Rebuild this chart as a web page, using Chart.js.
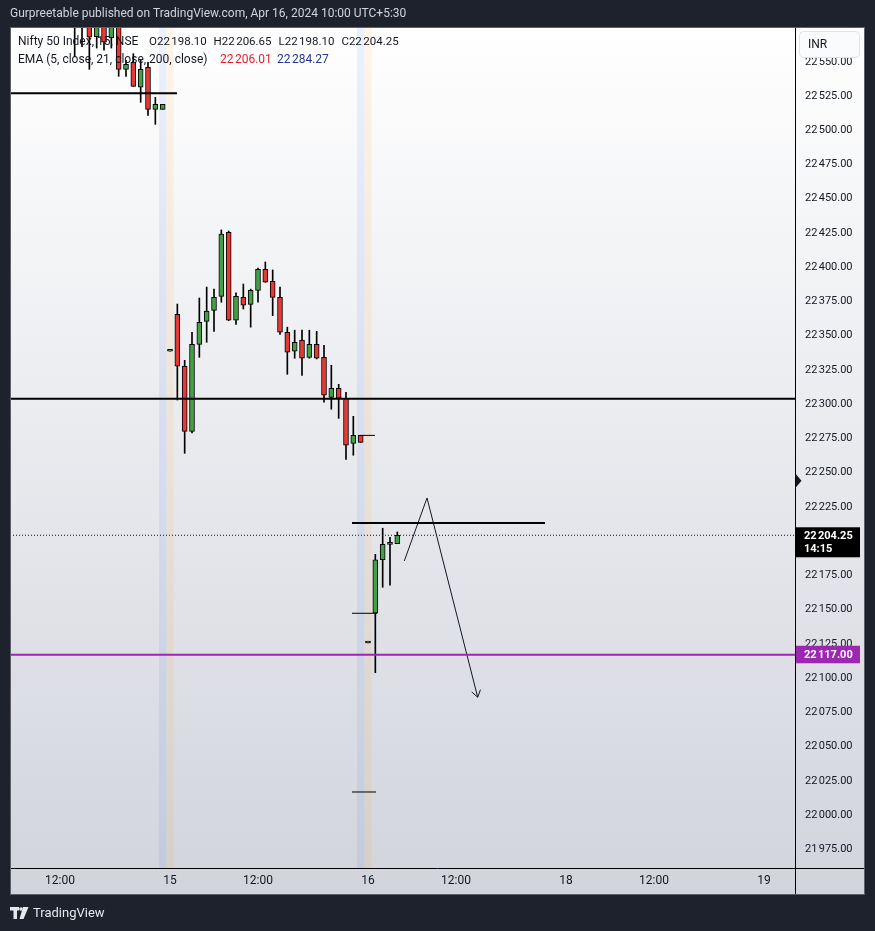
<!DOCTYPE html>
<html>
<head>
<meta charset="utf-8">
<script src="https://cdn.jsdelivr.net/npm/chart.js@4.4.1/dist/chart.umd.min.js"></script>
<style>
  html, body { margin: 0; padding: 0; background: #1e222d; }
  canvas { display: block; }
</style>
</head>
<body>
<canvas id="chart" width="875" height="931"></canvas>
<script>
// 15 min slots, 27 per session day (pre-market, 9:15 .. 15:15, post-market).
// slot 0 = Apr 12 pre-market, 27 = Apr 15, 54 = Apr 16, 81 = Apr 18, 108 = Apr 19
const slots = [14, 15, 16, 17, 18, 19, 20, 21, 22, 23, 24, 25, 26,
  27, 28, 29, 30, 31, 32, 33, 34, 35, 36, 37, 38, 39, 40, 41, 42, 43, 44, 45, 46, 47, 48, 49, 50, 51, 52, 53,
  54, 55, 56, 57, 58];
const opens = [22592, 22580, 22588, 22568.3, 22583, 22567.4, 22580, 22544.5, 22549.6, 22531.4, 22546, 22515.3, 22515.3,
  22338.6, 22365.6, 22327.8, 22280.1, 22343.7, 22360.5, 22368.5, 22378.7, 22425.5, 22361.4, 22378, 22372.9, 22383.1,
  22398.5, 22389.7, 22378, 22352.5, 22338.6, 22346.7, 22334.2, 22343.7, 22334.2, 22305, 22311.6, 22304.3, 22271.4, 22277.2,
  22125.6, 22147.3, 22186.4, 22197.6, 22198.10];
const highs = [22598, 22596, 22592, 22586, 22587, 22583, 22584, 22551, 22555.9, 22551, 22549.6, 22524, 22518.9,
  22338.6, 22373.1, 22332, 22352.5, 22377.5, 22385.5, 22384, 22427.2, 22426.4, 22381.2, 22387.7, 22384, 22399.3,
  22403.8, 22398, 22385.5, 22356.2, 22354, 22354, 22354, 22353.2, 22343, 22328.4, 22314.5, 22308.7, 22291.1, 22277.2,
  22125.6, 22190.3, 22209.4, 22202.8, 22206.65];
const lows = [22553.7, 22561, 22544.5, 22560, 22558.4, 22560, 22539.4, 22539.4, 22532.1, 22520.4, 22510.9, 22504.3, 22515.3,
  22338.6, 22303, 22264.1, 22279, 22334.2, 22345.2, 22353.2, 22374.4, 22361, 22358.3, 22369.5, 22356.2, 22374.4,
  22389, 22364.6, 22351, 22321.8, 22333.5, 22321, 22333.5, 22333, 22301.4, 22296.3, 22289.6, 22259.7, 22262.7, 22272.1,
  22125.6, 22103.9, 22166.3, 22167.8, 22198.10];
const closes = [22584, 22590, 22567.9, 22582, 22564.4, 22579, 22544.5, 22548.1, 22532.1, 22544.5, 22515.3, 22518.9, 22518.9,
  22338.6, 22327.8, 22280.1, 22343.7, 22359.8, 22368, 22378, 22424.2, 22361.4, 22378.7, 22372.2, 22383.1, 22398.5,
  22389, 22378, 22352.5, 22337.9, 22345.2, 22333.5, 22343.7, 22333.5, 22306.5, 22311.6, 22304.3, 22270, 22277.2, 22272.1,
  22125.6, 22186.4, 22197.6, 22198.3, 22204.25];

const preSlots = [27, 54];
const postSlots = [26, 53];

const timeTickSlots = [12, 27, 39, 54, 66, 81, 93, 108];
const timeTickLabels = ['12:00', '15', '12:00', '16', '12:00', '18', '12:00', '19'];

const lastPrice = 22204.25;
const alertPrice = 22117;
const markerPrice = 22244;
const topTick = 22550;

const xMin = 5.18, xMax = 112.23;
const yMin = 21961.3, yMax = 22575.4;

const UP = '#43a047', DOWN = '#e53935';

// user drawings on the chart (slot, price)
const drawings = [
  { p: 22527, a: xMin, b: 27.95, w: 2, color: '#000' },
  { p: 22304, a: xMin, b: xMax, w: 2, color: '#000' },
  { p: 22213.2, a: 51.82, b: 78.14, w: 2, color: '#000' },
  { p: 22117, a: xMin, b: xMax, w: 2, color: '#9c27b0' },
  { p: lastPrice, a: xMin, b: xMax, w: 1, color: '#131722', dash: [1, 2] },
  { p: 22277.2, a: 52.95, b: 54.95, w: 1, color: '#000' },
  { p: 22147.3, a: 51.82, b: 55.23, w: 1, color: '#000' },
  { p: 22016.8, a: 51.82, b: 55.1, w: 1, color: '#000' },
];
const arrowPath = [[58.95, 22185.5], [62.05, 22231.5], [68.96, 22086.0]];

const fmt = v => {
  const [i, d] = v.toFixed(2).split('.');
  return i.replace(/\B(?=(\d{3})+(?!\d))/g, '\u202F') + '.' + d;
};

// draw text pieces one after another
function flow(c, parts, x, y, gap) {
  parts.forEach(([t, col]) => {
    c.fillStyle = col;
    c.fillText(t, x, y);
    x += c.measureText(t).width + gap;
  });
}

const frame = {
  id: 'frame',
  beforeDraw(chart) {
    const c = chart.ctx, xs = chart.scales.x, a = chart.chartArea;
    c.save();
    c.fillStyle = '#1e222d';
    c.fillRect(0, 0, chart.width, chart.height);
    const g = c.createLinearGradient(0, 27, 0, 895);
    g.addColorStop(0, '#ffffff');
    g.addColorStop(1, '#d1d4dc');
    c.fillStyle = g;
    c.fillRect(10, 27, 855, 868);
    const half = (xs.getPixelForValue(1) - xs.getPixelForValue(0)) / 2;
    c.fillStyle = 'rgba(41,98,255,0.09)';
    postSlots.forEach(s => {
      const px = xs.getPixelForValue(s);
      c.fillRect(px - half, a.top, half * 2, a.bottom - a.top);
    });
    c.fillStyle = 'rgba(255,152,0,0.09)';
    preSlots.forEach(s => {
      const px = xs.getPixelForValue(s);
      c.fillRect(px - half, a.top, half * 2, a.bottom - a.top);
    });
    c.restore();
  },
  afterDraw(chart) {
    const c = chart.ctx, xs = chart.scales.x, ys = chart.scales.y;
    c.save();
    // arrow head
    const p1 = arrowPath[arrowPath.length - 2], p2 = arrowPath[arrowPath.length - 1];
    const x1 = xs.getPixelForValue(p1[0]), y1 = ys.getPixelForValue(p1[1]);
    const x2 = xs.getPixelForValue(p2[0]), y2 = ys.getPixelForValue(p2[1]);
    const ang = Math.atan2(y2 - y1, x2 - x1);
    c.strokeStyle = '#131722';
    c.lineWidth = 1;
    c.beginPath();
    c.moveTo(x2 - 8 * Math.cos(ang - 0.6), y2 - 8 * Math.sin(ang - 0.6));
    c.lineTo(x2, y2);
    c.lineTo(x2 - 8 * Math.cos(ang + 0.6), y2 - 8 * Math.sin(ang + 0.6));
    c.stroke();

    // pane separators
    c.strokeStyle = '#000';
    c.beginPath();
    c.moveTo(795.5, 27); c.lineTo(795.5, 895);
    c.moveTo(10, 868.5); c.lineTo(865, 868.5);
    c.stroke();
    c.strokeStyle = '#5d606b';
    c.strokeRect(10.5, 27.5, 854, 867);

    // header text
    c.textBaseline = 'middle';
    c.font = '12px Roboto';
    c.fillStyle = '#d1d4dc';
    c.fillText('Gurpreetable published on TradingView.com, Apr 16, 2024 10:00 UTC+5:30', 10, 14);

    c.fillStyle = '#131722';
    c.fillText('Nifty 50 Index, 15, NSE', 18, 42);
    c.font = '11.5px Roboto';
    flow(c, [['O22\u202F198.10', '#131722'], ['H22\u202F206.65', '#131722'],
             ['L22\u202F198.10', '#131722'], ['C22\u202F204.25', '#131722']], 149, 42, 7);
    c.font = '12px Roboto';
    c.fillStyle = '#131722';
    c.fillText('EMA (5, close, 21, close, 200, close)', 18, 59.5);
    c.fillStyle = '#e0202e';
    c.fillText('22\u202F206.01', 220, 59.5);
    c.fillStyle = '#283593';
    c.fillText('22\u202F284.27', 277, 59.5);

    // currency button
    c.fillStyle = '#fafbfd';
    c.strokeStyle = '#e0e3eb';
    c.beginPath();
    c.roundRect(799.5, 31.5, 60, 26, 4);
    c.fill(); c.stroke();
    c.fillStyle = '#131722';
    c.font = '12px Roboto';
    c.fillText('INR', 808, 44.5);

    // last price label
    const ly = ys.getPixelForValue(lastPrice);
    c.fillStyle = '#000';
    c.fillRect(796, ly - 8, 64, 30);
    c.fillStyle = '#fff';
    c.font = 'bold 11px Roboto';
    c.fillText(fmt(lastPrice), 804, ly + 0.5);
    c.fillText('14:15', 804, ly + 14);

    // alert line label
    const ay = ys.getPixelForValue(alertPrice);
    c.fillStyle = '#9c27b0';
    c.fillRect(796, ay - 9, 64, 17.5);
    c.fillStyle = '#fff';
    c.fillText(fmt(alertPrice), 804, ay + 0.5);

    // marker on price scale
    const my = ys.getPixelForValue(markerPrice);
    c.fillStyle = '#131722';
    c.beginPath();
    c.moveTo(796, my - 6.5); c.lineTo(801.5, my); c.lineTo(796, my + 6.5);
    c.closePath(); c.fill();

    // footer logo
    c.fillStyle = '#e6e8ee';
    c.fillRect(10, 907, 9, 3.5);
    c.fillRect(13.5, 907, 3.5, 12);
    c.beginPath(); c.arc(21, 909, 1.8, 0, Math.PI * 2); c.fill();
    c.beginPath();
    c.moveTo(23, 907); c.lineTo(28.5, 907); c.lineTo(23.5, 919); c.lineTo(19.5, 919);
    c.closePath(); c.fill();
    c.font = '13px Roboto';
    c.fillText('TradingView', 33, 913.5);
    c.restore();
  }
};

const bodyData = slots.map((s, i) => ({ x: s, y: [opens[i], closes[i]] }));
const wickData = slots.map((s, i) => ({ x: s, y: [lows[i], highs[i]] }));
const bodyColors = slots.map((s, i) => closes[i] >= opens[i] ? UP : DOWN);

const lineSets = drawings.map(d => ({
  type: 'line',
  data: [{ x: d.a, y: d.p }, { x: d.b, y: d.p }],
  borderColor: d.color,
  borderWidth: d.w,
  borderDash: d.dash || [],
  pointRadius: 0,
  order: 0
}));
lineSets.push({
  type: 'line',
  data: arrowPath.map(p => ({ x: p[0], y: p[1] })),
  borderColor: '#131722',
  borderWidth: 1,
  pointRadius: 0,
  tension: 0,
  order: 0
});

new Chart(document.getElementById('chart'), {
  type: 'bar',
  data: {
    datasets: [
      ...lineSets,
      {
        data: bodyData,
        backgroundColor: bodyColors,
        borderColor: '#000',
        borderWidth: 1,
        borderSkipped: false,
        barThickness: 5,
        minBarLength: 2,
        grouped: false,
        order: 1
      },
      {
        data: wickData,
        backgroundColor: '#000',
        barThickness: 1,
        grouped: false,
        order: 2
      }
    ]
  },
  options: {
    responsive: false,
    animation: false,
    devicePixelRatio: 1,
    layout: { padding: { left: 10, top: 27, right: 10, bottom: 36 } },
    plugins: { legend: { display: false }, tooltip: { enabled: false } },
    scales: {
      x: {
        type: 'linear',
        min: xMin,
        max: xMax,
        offset: false,
        grid: { display: false, drawTicks: false },
        border: { display: false },
        afterBuildTicks: s => { s.ticks = timeTickSlots.map(v => ({ value: v })); },
        afterFit: s => { s.height = 27; },
        ticks: {
          autoSkip: false,
          maxRotation: 0,
          padding: 6,
          color: '#131722',
          font: { family: 'Roboto', size: 12 },
          callback: (v, i) => timeTickLabels[i]
        }
      },
      y: {
        type: 'linear',
        position: 'right',
        min: yMin,
        max: yMax,
        grid: { display: false, drawTicks: false },
        border: { display: false },
        afterFit: s => { s.width = 70; },
        afterBuildTicks: s => { s.ticks = s.ticks.filter(t => t.value <= topTick); },
        ticks: {
          stepSize: 25,
          includeBounds: false,
          autoSkip: false,
          padding: 10,
          color: '#131722',
          font: { family: 'Roboto', size: 11 },
          callback: v => fmt(v)
        }
      }
    }
  },
  plugins: [frame]
});
</script>
</body>
</html>
